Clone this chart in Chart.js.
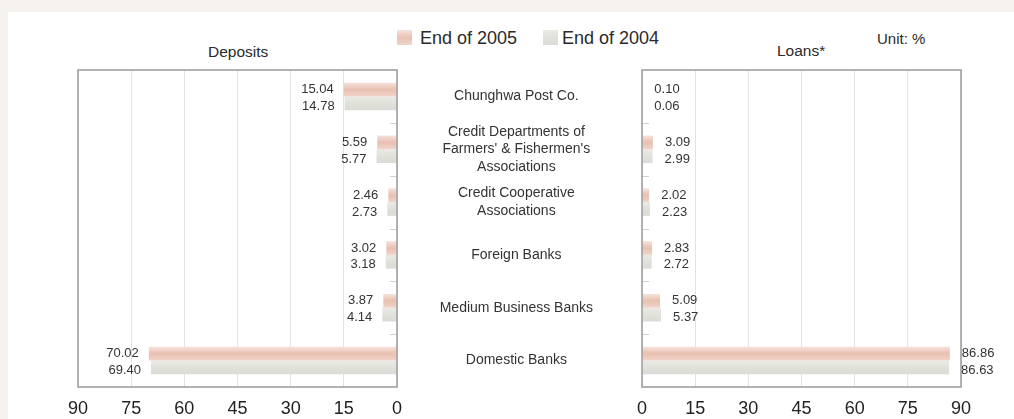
<!DOCTYPE html>
<html>
<head>
<meta charset="utf-8">
<script src="https://cdn.jsdelivr.net/npm/chart.js@4.4.1/dist/chart.umd.min.js"></script>
<style>
  body { margin: 0; background: #f6f3ee; font-family: "Liberation Sans", Arial, sans-serif; }
  #wrap { position: relative; width: 1014px; height: 419px; overflow: hidden; }
  #panel { position: absolute; left: 8px; top: 12px; right: 0; bottom: 0; background: #fff; }
  .txt { position: absolute; white-space: nowrap; color: #2a2a2a; line-height: 1; }
  .swatch { position: absolute; width: 15px; height: 15px; }
  #left-box { position: absolute; left: 0; top: 0; width: 410px; height: 419px; }
  #right-box { position: absolute; left: 400px; top: 0; width: 614px; height: 419px; }
</style>
</head>
<body>
<div id="wrap">
  <div id="panel"></div>

  <div class="swatch" style="left:397px; top:30px; background:linear-gradient(#f6e2da,#e8c2b4,#f1d4c9);"></div>
  <div class="txt" style="left:420px; top:29px; font-size:18px;">End of 2005</div>
  <div class="swatch" style="left:543px; top:30px; background:linear-gradient(#e9ebe4,#e0e1da,#dcdad6);"></div>
  <div class="txt" style="left:562px; top:29px; font-size:18px;">End of 2004</div>

  <div class="txt" style="left:208px; top:44px; font-size:15.5px;">Deposits</div>
  <div class="txt" style="left:777px; top:43px; font-size:15.5px;">Loans*</div>
  <div class="txt" style="left:877px; top:31px; font-size:15px;">Unit: %</div>

  <div id="left-box"><canvas id="deposits-chart"></canvas></div>
  <div id="right-box"><canvas id="loans-chart"></canvas></div>
</div>

<script>
// Market share by type of institution (%)
const categories = [
    'Chunghwa Post Co.',
    ['Credit Departments of', "Farmers' & Fishermen's", 'Associations'],
    ['Credit Cooperative', 'Associations'],
    'Foreign Banks',
    'Medium Business Banks',
    'Domestic Banks'
];
const deposits2005 = [15.04, 5.59, 2.46, 3.02, 3.87, 70.02];
const deposits2004 = [14.78, 5.77, 2.73, 3.18, 4.14, 69.40];
const loans2005 = [0.10, 3.09, 2.02, 2.83, 5.09, 86.86];
const loans2004 = [0.06, 2.99, 2.23, 2.72, 5.37, 86.63];
const axisTicks = [0, 15, 30, 45, 60, 75, 90];

const CAT_PCT = 0.52;
const stops2005 = ['#f6e2da', '#e8c0b2', '#f1d4c9'];
const stops2004 = ['#e9ebe4', '#e0e1da', '#dcdad6'];

// shaded bar fill, built from the bar's own pixel band
function barFill(stops) {
    return function (ctx) {
        const chart = ctx.chart;
        const y = chart.scales.y;
        if (!chart.chartArea || !y || ctx.type !== 'data') return stops[1];
        const band = y.getPixelForValue(1) - y.getPixelForValue(0);
        const c = y.getPixelForValue(ctx.dataIndex);
        const h = band * CAT_PCT / 2;
        const top = ctx.datasetIndex === 0 ? c - h : c;
        const g = chart.ctx.createLinearGradient(0, top, 0, top + h);
        g.addColorStop(0, stops[0]);
        g.addColorStop(0.5, stops[1]);
        g.addColorStop(1, stops[2]);
        return g;
    };
}

// frame, small category ticks and value labels
const framePlugin = {
    id: 'frame',
    afterDatasetsDraw(chart, args, opts) {
        const { ctx, chartArea: a } = chart;
        const y = chart.scales.y;
        ctx.save();
        // category separators
        ctx.strokeStyle = '#d0d0d0';
        ctx.lineWidth = 1;
        for (let i = 0; i < categories.length - 1; i++) {
            const p = Math.round((y.getPixelForValue(i) + y.getPixelForValue(i + 1)) / 2) + 0.5;
            ctx.beginPath();
            if (opts.side === 'left') {
                ctx.moveTo(a.right - 7, p); ctx.lineTo(a.right, p);
            } else {
                ctx.moveTo(a.left, p); ctx.lineTo(a.left + 7, p);
            }
            ctx.stroke();
        }
        // value labels
        ctx.font = '13px "Liberation Sans", Arial, sans-serif';
        ctx.fillStyle = '#333';
        ctx.textBaseline = 'middle';
        chart.data.datasets.forEach((ds, di) => {
            chart.getDatasetMeta(di).data.forEach((bar, i) => {
                const text = ds.data[i].toFixed(2);
                const ty = bar.y + (di === 0 ? 0 : 3);
                if (opts.side === 'left') {
                    ctx.textAlign = 'right';
                    ctx.fillText(text, bar.x - 10, ty);
                } else {
                    ctx.textAlign = 'left';
                    ctx.fillText(text, bar.x + 12, ty);
                }
            });
        });
        // outer frame
        ctx.strokeStyle = '#9a9a9a';
        ctx.lineWidth = 1.5;
        ctx.strokeRect(a.left, a.top, a.right - a.left, a.bottom - a.top);
        ctx.restore();
    }
};

function makeChart(id, data05, data04, side) {
    const isLeft = side === 'left';
    const yAxis = {
        display: !isLeft,
        position: 'left',
        grid: { display: false },
        border: { display: false },
        ticks: {
            autoSkip: false,
            crossAlign: 'center',
            padding: 41,
            color: '#333',
            font: { family: '"Liberation Sans", Arial, sans-serif', size: 14, lineHeight: 1.25 }
        }
    };
    if (!isLeft) {
        yAxis.afterFit = scale => {
            scale.width = 242;
            scale.paddingTop = 0;
            scale.paddingBottom = 0;
        };
    }
    return new Chart(document.getElementById(id), {
        type: 'bar',
        data: {
            labels: categories,
            datasets: [
                { label: 'End of 2005', data: data05, backgroundColor: barFill(stops2005) },
                { label: 'End of 2004', data: data04, backgroundColor: barFill(stops2004) }
            ]
        },
        options: {
            indexAxis: 'y',
            responsive: true,
            maintainAspectRatio: false,
            animation: false,
            categoryPercentage: CAT_PCT,
            barPercentage: 1,
            layout: {
                padding: isLeft
                    ? { left: 78, right: 13, top: 70, bottom: 0 }
                    : { left: 0, right: 53, top: 70, bottom: 0 }
            },
            plugins: {
                legend: { display: false },
                tooltip: { enabled: false },
                frame: { side: side }
            },
            scales: {
                x: {
                    reverse: isLeft,
                    min: 0,
                    max: 90,
                    afterBuildTicks: scale => { scale.ticks = axisTicks.map(v => ({ value: v })); },
                    afterFit: scale => { scale.height = 32; },
                    grid: { color: '#e2e2e2', drawTicks: false },
                    border: { display: false },
                    ticks: {
                        maxRotation: 0,
                        padding: 11,
                        color: '#222',
                        font: { family: '"Liberation Sans", Arial, sans-serif', size: 18 }
                    }
                },
                y: yAxis
            }
        },
        plugins: [framePlugin]
    });
}

makeChart('deposits-chart', deposits2005, deposits2004, 'left');
makeChart('loans-chart', loans2005, loans2004, 'right');
</script>
</body>
</html>
